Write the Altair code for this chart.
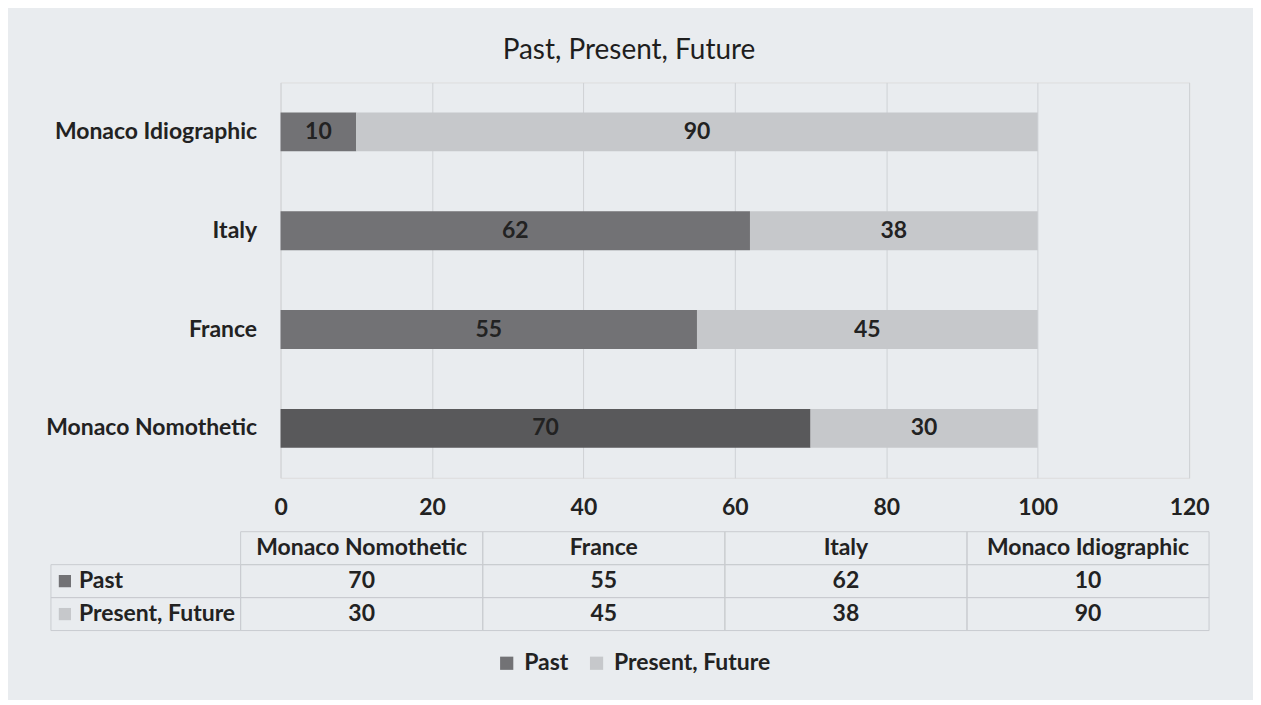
import altair as alt
import pandas as pd

categories = ["Monaco Nomothetic", "France", "Italy", "Monaco Idiographic"]
series = ["Past", "Present, Future"]
past = [70, 55, 62, 10]
present = [30, 45, 38, 90]
x_ticks = [0, 20, 40, 60, 80, 100, 120]

FONT = "Lato"
FS = 23
TXT = "#222222"
BG = "#e9ecef"
GRID = "#cfd2d5"
BORDER = "#c9ccd0"
PAST = "#727275"
PAST_DARK = "#59595b"
PRESENT = "#c6c8cb"

rows = []
for i, c in enumerate(categories):
    rows.append({"category": c, "series": series[0], "value": past[i], "order": 0})
    rows.append({"category": c, "series": series[1], "value": present[i], "order": 1})
df = pd.DataFrame(rows)
hdr = pd.DataFrame({"category": categories, "row": ["hdr"] * len(categories)})
lab = pd.DataFrame({"series": series, "lc": ["label"] * len(series)})

y_order = list(reversed(categories))
row_domain = ["hdr"] + series

color_scale = alt.Scale(domain=series, range=[PAST, PRESENT])
color_enc = alt.Color(
    "series:N", scale=color_scale,
    legend=alt.Legend(
        title=None, orient="none", direction="horizontal",
        legendX=215, legendY=570, symbolType="square", symbolSize=175,
        symbolStrokeWidth=0, labelFontSize=FS, labelFont=FONT,
        labelFontWeight="bold", labelColor=TXT, columnPadding=16,
        symbolOffset=0, labelOffset=6, labelLimit=300,
    ),
)

base = alt.Chart(df).transform_stack(
    stack="value", groupby=["category"], as_=["x0", "x1"],
    sort=[alt.SortField("order", order="ascending")],
).transform_calculate(mid="(datum.x0 + datum.x1) / 2")

xq = alt.X(
    "x0:Q", scale=alt.Scale(domain=[0, 120], nice=False),
    axis=alt.Axis(
        values=x_ticks, title=None, domain=False, ticks=False, grid=True,
        gridColor=GRID, gridWidth=1, labelFontSize=FS, labelFont=FONT,
        labelFontWeight="bold", labelColor=TXT, labelPadding=19,
        labelFlush=False,
    ),
)
yc = alt.Y(
    "category:N", sort=y_order,
    scale=alt.Scale(domain=y_order, paddingInner=0.606, paddingOuter=0.303),
    axis=alt.Axis(
        title=None, domain=False, ticks=False, labelFontSize=FS,
        labelFont=FONT, labelFontWeight="bold", labelColor=TXT,
        labelPadding=24, labelLimit=400,
    ),
)

bars = base.mark_bar().encode(
    x=xq, x2="x1:Q", y=yc,
    color=alt.condition(
        "datum.category == 'Monaco Nomothetic' && datum.series == 'Past'",
        alt.value(PAST_DARK), color_enc,
    ),
)
bar_text = base.mark_text(
    font=FONT, fontSize=FS, fontWeight="bold", color=TXT, baseline="middle"
).encode(
    x=alt.X("mid:Q", scale=alt.Scale(domain=[0, 120], nice=False)),
    y=alt.Y("category:N", sort=y_order),
    text="value:Q",
)
bar_group = alt.layer(bars, bar_text)

col_x = alt.X("category:N", sort=categories,
              scale=alt.Scale(domain=categories, range=[-40, 930],
                              paddingInner=0, paddingOuter=0), axis=None)
row_y_hdr = alt.Y("row:N", scale=alt.Scale(domain=row_domain, range=[450, 549],
                                           paddingInner=0, paddingOuter=0), axis=None)
row_y_ser = alt.Y("series:N", scale=alt.Scale(domain=row_domain, range=[450, 549],
                                              paddingInner=0, paddingOuter=0), axis=None)

hdr_rect = alt.Chart(hdr).mark_rect(fill="transparent", stroke=BORDER, strokeWidth=1).encode(
    x=col_x, y=row_y_hdr)
hdr_text = alt.Chart(hdr).mark_text(font=FONT, fontSize=FS, fontWeight="bold",
                                    color=TXT, baseline="middle", limit=400).encode(
    x=col_x, y=row_y_hdr, text="category:N")
cell_rect = alt.Chart(df).mark_rect(fill="transparent", stroke=BORDER, strokeWidth=1).encode(
    x=col_x, y=row_y_ser)
cell_text = alt.Chart(df).mark_text(font=FONT, fontSize=FS, fontWeight="bold",
                                    color=TXT, baseline="middle").encode(
    x=col_x, y=row_y_ser, text="value:Q")
table_group = alt.layer(hdr_rect, hdr_text, cell_rect, cell_text)

lc_scale = alt.Scale(domain=["label"], range=[-230, -40], paddingInner=0, paddingOuter=0)
lab_rect = alt.Chart(lab).mark_rect(fill="transparent", stroke=BORDER, strokeWidth=1).encode(
    x=alt.X("lc:N", scale=lc_scale, axis=None), y=row_y_ser)
lab_sym = alt.Chart(lab).mark_point(shape="square", filled=True, size=150, opacity=1,
                                    xOffset=14).encode(
    x=alt.X("lc:N", scale=lc_scale, axis=None, bandPosition=0),
    y=row_y_ser, color=alt.Color("series:N", scale=color_scale, legend=None))
lab_text = alt.Chart(lab).mark_text(font=FONT, fontSize=FS, fontWeight="bold", color=TXT,
                                    baseline="middle", align="left", dx=28).encode(
    x=alt.X("lc:N", scale=lc_scale, axis=None, bandPosition=0),
    y=row_y_ser, text="series:N")
label_group = alt.layer(lab_rect, lab_sym, lab_text)

chart = alt.layer(bar_group, table_group, label_group).resolve_scale(
    x="independent", y="independent"
).properties(
    width=910, height=396,
    title=alt.TitleParams("Past, Present, Future", font=FONT, fontSize=28,
                          fontWeight="normal", color="#1e1e1e", anchor="middle",
                          dx=-106, offset=17),
    autosize=alt.AutoSizeParams(type="none"),
    padding={"left": 273, "top": 74, "right": 64, "bottom": 222},
    background=BG,
).configure_view(stroke=None).configure(font=FONT)

chart.save("out.html", embed_options={"renderer": "svg", "actions": False})
